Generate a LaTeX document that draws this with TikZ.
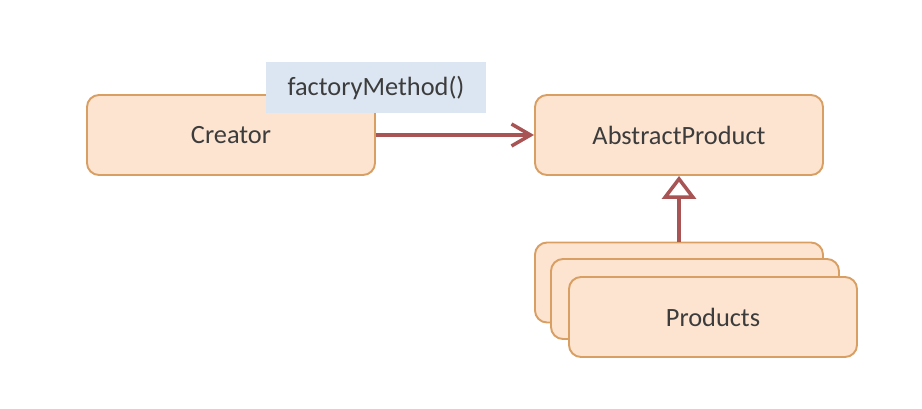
\documentclass[tikz,border=0pt]{standalone}
\usepackage{fontspec}
\setmainfont{Carlito}
\usetikzlibrary{arrows.meta}
\definecolor{boxfill}{HTML}{FCE4D0}
\definecolor{boxline}{HTML}{D99E62}
\definecolor{linkred}{HTML}{A85454}
\definecolor{notefill}{HTML}{DCE6F2}
\definecolor{txt}{HTML}{3C3C3C}
\begin{document}
\begin{tikzpicture}[
  box/.style={draw=boxline, fill=boxfill, line width=1.1pt, rounded corners=0.24cm,
    minimum width=5.76cm, minimum height=1.6cm, text=txt, font=\fontsize{15}{18}\selectfont},
  link/.style={draw=linkred, line width=2pt}
]
\useasboundingbox (0,0) rectangle (18.44,8.16);
\node[box] (creator) at (4.62,5.46) {Creator};
\node[fill=notefill, minimum width=4.4cm, minimum height=1.02cm, text=txt,
  font=\fontsize{15}{18}\selectfont] (method) at (7.52,6.41) {factoryMethod()};
\node[box] (abstract) at (13.58,5.46) {AbstractProduct};
\node[box] (prod1) at (13.58,2.51) {};
\node[box] (prod2) at (13.90,2.18) {};
\node[box] (prod3) at (14.26,1.82) {Products};
\draw[link, -{Straight Barb[length=0.38cm, width=0.44cm, line width=2pt]}] (creator) -- (abstract);
\draw[link, -{Triangle[open, fill=white, length=0.46cm, width=0.68cm, line width=2pt]}] (prod1.north) -- (abstract.south);
\end{tikzpicture}
\end{document}
